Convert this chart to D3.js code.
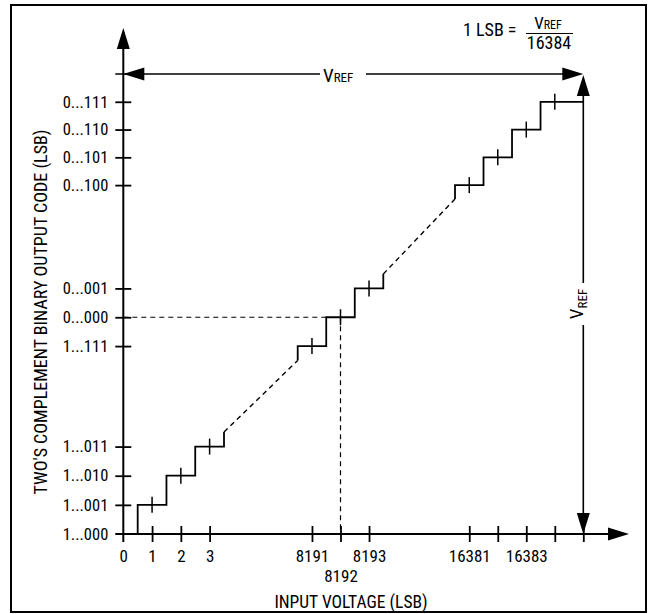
<!DOCTYPE html>
<meta charset="utf-8">
<style>
body { margin: 0; background: #fff; }
text {
  font-family: "Liberation Sans Narrow", "Arial Narrow", "Roboto Condensed", sans-serif;
  font-stretch: condensed;
  fill: #000;
}
.tick text { font-size: 16.5px; }
.stair { fill: none; stroke: #000; stroke-width: 1.8px; }
.dash { fill: none; stroke: #000; stroke-width: 1.4px; stroke-dasharray: 5,4; }
.guide { fill: none; stroke: #000; stroke-width: 1.2px; stroke-dasharray: 5,4; }
.axisline { stroke: #000; stroke-width: 2px; }
</style>
<svg width="649" height="614"></svg>
<script src="https://cdn.jsdelivr.net/npm/d3@7"></script>
<script>

// input in LSB, output as signed code (1...000 = -8192, 0...111 = 8191)
var vrefLsb = 16385, vrefCode = 8192;

var xTicks = [0, 1, 2, 3, 8191, 8192, 8193, 16381, 16382, 16383, 16384, vrefLsb];
var xLabels = {0: "0", 1: "1", 2: "2", 3: "3", 8191: "8191", 8192: "8192", 8193: "8193", 16381: "16381", 16383: "16383"};

var yTicks = [-8192, -8191, -8190, -8189, -1, 0, 1, 8188, 8189, 8190, 8191, vrefCode];
var yLabels = {"-8192": "1...000", "-8191": "1...001", "-8190": "1...010", "-8189": "1...011",
  "-1": "1...111", "0": "0...000", "1": "0...001",
  "8188": "0...100", "8189": "0...101", "8190": "0...110", "8191": "0...111"};

// transfer function pieces
var stairLow  = [[0.5, -8192], [0.5, -8191], [1.5, -8190], [2.5, -8189], [3.5, -8188.5]];
var gapLow    = [[3.5, -8188.5], [8190.5, -1.5]];
var stairMid  = [[8190.5, -1.5], [8190.5, -1], [8191.5, 0], [8192.5, 1], [8193.5, 1.5]];
var gapHigh   = [[8193.5, 1.5], [16380.5, 8187.5]];
var stairHigh = [[16380.5, 8187.5], [16380.5, 8188], [16381.5, 8189], [16382.5, 8190], [16383.5, 8191], [vrefLsb, 8191]];

// centre marks on each code step
var stepMarks = [[1, -8191], [2, -8190], [3, -8189], [8191, -1], [8192, 0], [8193, 1],
  [16381, 8188], [16382, 8189], [16383, 8190], [16384, 8191]];

var svg = d3.select("svg");

svg.append("rect")
    .attr("x", 11).attr("y", 5).attr("width", 635).attr("height", 607)
    .attr("fill", "none").attr("stroke", "#000").attr("stroke-width", 2);

// broken axes -> polylinear scales
var x = d3.scaleLinear()
    .domain([0, 3.5, 8190.5, 8193.5, 16380.5, vrefLsb])
    .range([123.3, 224, 297.7, 383.3, 455, 583.3]);

var y = d3.scaleLinear()
    .domain([-8192, -8188.5, -1.5, 1.5, 8187.5, vrefCode])
    .range([534, 432, 360.5, 274, 199, 74]);

var x0 = x(0), y0 = y(-8192);

function arrow(tx, ty, dir) {
  var L = 21, W = 6.5, p;
  if (dir == "up") p = [[tx, ty], [tx - W, ty + L], [tx + W, ty + L]];
  if (dir == "down") p = [[tx, ty], [tx - W, ty - L], [tx + W, ty - L]];
  if (dir == "left") p = [[tx, ty], [tx + L, ty - W], [tx + L, ty + W]];
  if (dir == "right") p = [[tx, ty], [tx - L, ty - W], [tx - L, ty + W]];
  svg.append("path").attr("d", "M" + p.join("L") + "Z").attr("fill", "#000");
}

// x axis
var xAxis = d3.axisBottom(x)
    .tickValues(xTicks)
    .tickSize(8)
    .tickPadding(8)
    .tickFormat(function(d) { return xLabels[d] || ""; });

var gx = svg.append("g").attr("transform", "translate(0," + y0 + ")").call(xAxis);
gx.select(".domain").remove();
gx.selectAll(".tick line").attr("y1", -8).attr("stroke-width", 1.8);
gx.selectAll(".tick text").style("font-size", "17px")
    .attr("dy", function(d) { return d == 8192 ? "1.88em" : "0.71em"; });
gx.selectAll(".tick").filter(function(d) { return d == 0; }).select("line").remove();

// y axis
var yAxis = d3.axisLeft(y)
    .tickValues(yTicks)
    .tickSize(8)
    .tickPadding(7)
    .tickFormat(function(d) { return yLabels[d] || ""; });

var gy = svg.append("g").attr("transform", "translate(" + x0 + ",0)").call(yAxis);
gy.select(".domain").remove();
gy.selectAll(".tick line").attr("x1", 8).attr("stroke-width", 1.8);
gy.selectAll(".tick").filter(function(d) { return d == -8192 || d == vrefCode; }).select("line").remove();

svg.append("line").attr("class", "axisline")
    .attr("x1", x0 - 8).attr("x2", 626).attr("y1", y0).attr("y2", y0);
arrow(629, y0, "right");
svg.append("line").attr("class", "axisline")
    .attr("x1", x0).attr("x2", x0).attr("y1", y0 + 8).attr("y2", 32);
arrow(x0, 28, "up");

// dashed guides to the mid-scale code
svg.append("line").attr("class", "guide")
    .attr("x1", x0).attr("x2", x(8191.5)).attr("y1", y(0)).attr("y2", y(0));
svg.append("line").attr("class", "guide")
    .attr("x1", x(8192)).attr("x2", x(8192)).attr("y1", y(0)).attr("y2", y0);

var step = d3.line().x(function(d) { return x(d[0]); }).y(function(d) { return y(d[1]); }).curve(d3.curveStepAfter);
var straight = d3.line().x(function(d) { return x(d[0]); }).y(function(d) { return y(d[1]); });

[stairLow, stairMid, stairHigh].forEach(function(s) {
  svg.append("path").attr("class", "stair").attr("d", step(s));
});
[gapLow, gapHigh].forEach(function(s) {
  svg.append("path").attr("class", "dash").attr("d", straight(s));
});

svg.selectAll(".mark")
  .data(stepMarks)
  .enter().append("line")
    .attr("class", "mark")
    .attr("x1", function(d) { return x(d[0]); })
    .attr("x2", function(d) { return x(d[0]); })
    .attr("y1", function(d) { return y(d[1]) - 8; })
    .attr("y2", function(d) { return y(d[1]) + 8; })
    .attr("stroke", "#000").attr("stroke-width", 1.5);

// VREF dimension lines
var xr = x(vrefLsb), yr = y(vrefCode);

svg.append("line").attr("stroke", "#000").attr("stroke-width", 1.6)
    .attr("x1", x0 - 8).attr("x2", 320).attr("y1", yr).attr("y2", yr);
svg.append("line").attr("stroke", "#000").attr("stroke-width", 1.6)
    .attr("x1", 366).attr("x2", xr - 10).attr("y1", yr).attr("y2", yr);
arrow(x0, yr, "left");
arrow(xr, yr, "right");

var hv = svg.append("text").attr("x", 323).attr("y", yr + 8).style("font-size", "19px");
hv.append("tspan").text("V");
hv.append("tspan").style("font-size", "13px").text("REF");

svg.append("line").attr("stroke", "#000").attr("stroke-width", 1.6)
    .attr("x1", xr).attr("x2", xr).attr("y1", yr + 10).attr("y2", 283);
svg.append("line").attr("stroke", "#000").attr("stroke-width", 1.6)
    .attr("x1", xr).attr("x2", xr).attr("y1", 325).attr("y2", y0 - 10);
arrow(xr, yr + 1, "up");
arrow(xr, y0, "down");

var vv = svg.append("text")
    .attr("transform", "translate(" + (xr) + ",304) rotate(-90)")
    .attr("text-anchor", "middle")
    .style("font-size", "19px");
vv.append("tspan").text("V");
vv.append("tspan").style("font-size", "13px").attr("dy", 4).text("REF");

// LSB definition
svg.append("text").attr("x", 463).attr("y", 36).style("font-size", "18px").text("1 LSB =");
var num = svg.append("text").attr("x", 548).attr("y", 29).attr("text-anchor", "middle").style("font-size", "17px");
num.append("tspan").text("V");
num.append("tspan").style("font-size", "12px").text("REF");
svg.append("line").attr("x1", 526).attr("x2", 573).attr("y1", 33.5).attr("y2", 33.5)
    .attr("stroke", "#000").attr("stroke-width", 1);
svg.append("text").attr("x", 549).attr("y", 49).attr("text-anchor", "middle").style("font-size", "18px").text("16384");

// axis titles
svg.append("text")
    .attr("x", 351).attr("y", 608)
    .attr("text-anchor", "middle")
    .style("font-size", "17.5px")
    .text("INPUT VOLTAGE (LSB)");

svg.append("text")
    .attr("transform", "translate(47,312) rotate(-90)")
    .attr("text-anchor", "middle")
    .style("font-size", "18px")
    .text("TWO'S COMPLEMENT BINARY OUTPUT CODE (LSB)");

</script>
